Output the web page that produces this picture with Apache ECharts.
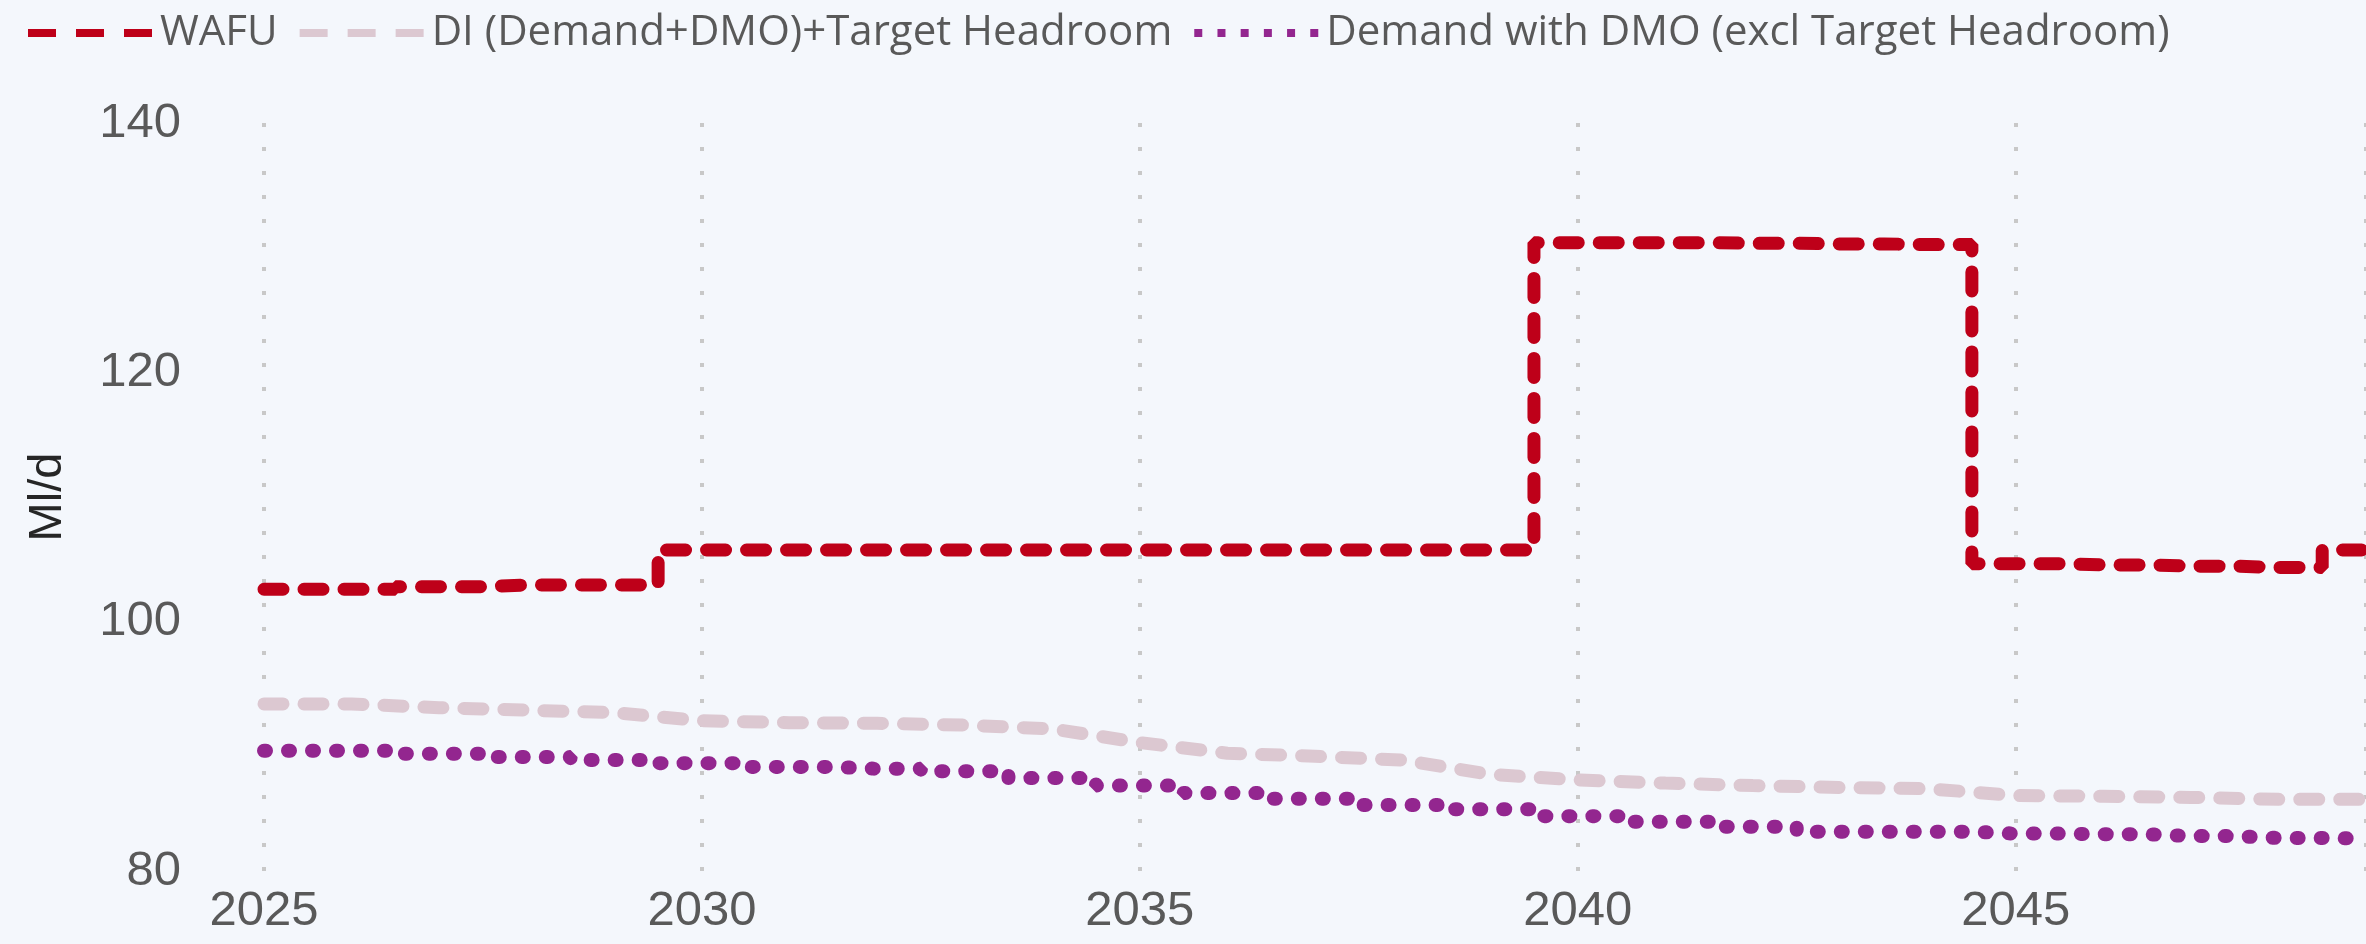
<!DOCTYPE html>
<html>
<head>
<meta charset="utf-8">
<script src="https://cdn.jsdelivr.net/npm/echarts@6/dist/echarts.min.js"></script>
<style>
html,body{margin:0;padding:0;background:#F4F7FC;}
#chart{width:2366px;height:944px;}
</style>
</head>
<body>
<div id="chart"></div>
<script>
const years = [2025,2026,2027,2028,2029,2030,2031,2032,2033,2034,2035,2036,2037,2038,2039,2040,2041,2042,2043,2044,2045,2046,2047,2048,2049];
const wafu = [102.6,102.6,102.8,102.95,102.95,105.75,105.75,105.75,105.75,105.75,105.75,105.75,105.75,105.75,105.75,130.4,130.4,130.35,130.3,130.25,104.65,104.55,104.45,104.35,105.75];
const diHeadroom = [93.4,93.4,93.1,92.9,92.7,92.05,91.9,91.85,91.7,91.4,90.3,89.45,89.2,88.9,87.75,87.3,87.05,86.85,86.7,86.6,86.05,86.0,85.9,85.75,85.75];
const demandDMO = [89.65,89.65,89.4,89.15,88.9,88.65,88.35,88.2,88.0,87.45,86.85,86.25,85.8,85.3,84.95,84.4,83.95,83.55,83.15,83.15,83.0,82.95,82.8,82.65,82.6];
const seriesNames = ['WAFU','DI (Demand+DMO)+Target Headroom','Demand with DMO (excl Target Headroom)'];
const xTicks = [2025,2030,2035,2040,2045];

const pair = arr => years.map((y,i)=>[y,arr[i]]);
const hiddenSymbol = {opacity:0, color:'rgba(0,0,0,0)', borderWidth:0};
const chart = echarts.init(document.getElementById('chart'));
chart.setOption({
  backgroundColor:'#F4F7FC',
  animation:false,
  legend:{
    left:24, top:12, padding:0, itemWidth:124, itemHeight:40, itemGap:18,
    textStyle:{fontFamily:'Open Sans', fontSize:42, color:'#595959', padding:[0,0,0,3]},
    data:[
      {name:seriesNames[0], itemStyle:hiddenSymbol, lineStyle:{width:8, type:[28,20], cap:'butt', color:'#BE0019', opacity:1}},
      {name:seriesNames[1], itemStyle:hiddenSymbol, lineStyle:{width:8, type:[28,20], cap:'butt', color:'#DCC8D1', opacity:1}},
      {name:seriesNames[2], itemStyle:hiddenSymbol, lineStyle:{width:8, type:[8,15.2], cap:'butt', color:'#93268F', opacity:1}}
    ]
  },
  grid:{left:264, right:0, top:123, bottom:73},
  xAxis:{
    type:'value', min:2025, max:2049, interval:5,
    axisLine:{show:false}, axisTick:{show:false},
    axisLabel:{fontFamily:'Liberation Sans', fontSize:49, color:'#595959', margin:16, showMaxLabel:false,
      formatter: v => xTicks.indexOf(v) >= 0 ? String(v) : ''},
    splitLine:{show:true, lineStyle:{color:'#C8C8C8', width:4, type:[4,20]}}
  },
  yAxis:{
    type:'value', min:80, max:140, interval:20,
    name:'Ml/d', nameLocation:'middle', nameGap:192,
    nameTextStyle:{fontFamily:'Liberation Sans', fontSize:47, color:'#262626'},
    axisLine:{show:false}, axisTick:{show:false},
    axisLabel:{fontFamily:'Liberation Sans', fontSize:49, color:'#595959', margin:83},
    splitLine:{show:false}
  },
  series:[
    {name:seriesNames[0], type:'line', step:'middle', showSymbol:false, symbol:'none', z:3,
     lineStyle:{color:'#BE0019', width:13, type:[19,21], cap:'round'}, itemStyle:{color:'#BE0019'}, data:pair(wafu)},
    {name:seriesNames[1], type:'line', showSymbol:false, symbol:'none', z:2,
     lineStyle:{color:'#DCC8D1', width:13, type:[19,21], cap:'round'}, itemStyle:{color:'#DCC8D1'}, data:pair(diHeadroom)},
    {name:seriesNames[2], type:'line', step:'middle', showSymbol:false, symbol:'none', z:2,
     lineStyle:{color:'#93268F', width:14, type:[2,22], cap:'round'}, itemStyle:{color:'#93268F'}, data:pair(demandDMO)}
  ]
});
</script>
</body>
</html>
